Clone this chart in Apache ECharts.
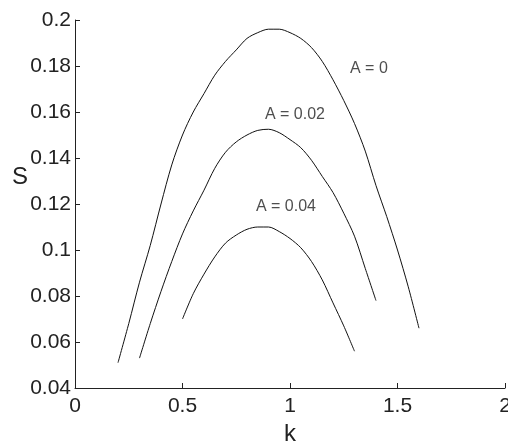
<!DOCTYPE html>
<html>
<head>
<meta charset="utf-8">
<script src="https://cdn.jsdelivr.net/npm/echarts@6/dist/echarts.min.js"></script>
<style>
html,body{margin:0;padding:0;background:#fff;}
#c{width:508px;height:441px;}
</style>
</head>
<body>
<div id="c"></div>
<script>
// A = 0
var k0 = [0.2,0.25,0.3,0.35,0.4,0.45,0.5,0.55,0.6,0.65,0.7,0.75,0.8,0.85,0.9,0.95,1.0,1.05,1.1,1.15,1.2,1.25,1.3,1.35,1.4,1.45,1.5,1.55,1.6];
var s0 = [0.051,0.068,0.086,0.102,0.120,0.137,0.150,0.160,0.168,0.176,0.182,0.187,0.192,0.1945,0.196,0.196,0.1945,0.192,0.188,0.182,0.174,0.165,0.155,0.143,0.128,0.1145,0.100,0.084,0.066];
// A = 0.02
var k1 = [0.3,0.35,0.4,0.45,0.5,0.55,0.6,0.65,0.7,0.75,0.8,0.85,0.9,0.95,1.0,1.05,1.1,1.15,1.2,1.25,1.3,1.35,1.4];
var s1 = [0.053,0.068,0.082,0.095,0.107,0.117,0.126,0.1355,0.1425,0.147,0.150,0.152,0.1525,0.151,0.148,0.1445,0.139,0.132,0.125,0.116,0.106,0.092,0.078];
// A = 0.04
var k2 = [0.5,0.55,0.6,0.65,0.7,0.75,0.8,0.85,0.9,0.95,1.0,1.05,1.1,1.15,1.2,1.25,1.3];
var s2 = [0.070,0.081,0.0895,0.097,0.103,0.1065,0.109,0.110,0.110,0.108,0.105,0.101,0.095,0.087,0.077,0.067,0.056];

var labelNames = ['A = 0','A = 0.02','A = 0.04'];
var labelK = [1.367,1.023,0.981];
var labelS = [0.179,0.1588,0.1188];

var xTicks = {min:0, max:2, interval:0.5};
var yTicks = {min:0.04, max:0.2, interval:0.02};

function pairs(xs, ys){ return xs.map(function(x,i){ return [x, ys[i]]; }); }

var FONT = 'Liberation Sans, Arial, sans-serif';
var TXT = '#222';

var lineStyle = {color:'#111', width:1};
function lineSeries(xs, ys){
  return {type:'line', data:pairs(xs,ys), showSymbol:false, smooth:0.3,
          lineStyle:lineStyle, silent:true, animation:false};
}

var chart = echarts.init(document.getElementById('c'), null, {renderer:'canvas'});
chart.setOption({
  backgroundColor:'#fff',
  animation:false,
  grid:{left:75, right:3, top:20, bottom:53, containLabel:false, outerBoundsMode:'none'},
  xAxis:{type:'value', min:xTicks.min, max:xTicks.max, interval:xTicks.interval,
    name:'k', nameLocation:'middle', nameGap:27,
    nameTextStyle:{fontFamily:FONT, fontSize:24, color:TXT},
    axisLine:{show:true, lineStyle:{color:'#222', width:1}},
    axisTick:{show:true, inside:true, length:5, lineStyle:{color:'#222'}},
    axisLabel:{fontFamily:FONT, fontSize:21, color:TXT, margin:8, hideOverlap:false},
    splitLine:{show:false}},
  yAxis:{type:'value', min:yTicks.min, max:yTicks.max, interval:yTicks.interval,
    axisLine:{show:true, lineStyle:{color:'#222', width:1}},
    axisTick:{show:true, inside:true, length:5, lineStyle:{color:'#222'}},
    axisLabel:{fontFamily:FONT, fontSize:21, color:TXT, margin:4},
    splitLine:{show:false}},
  graphic:[{type:'text', left:12, top:165,
    style:{text:'S', fontFamily:FONT, fontSize:24, fill:TXT}}],
  series:[
    lineSeries(k0,s0),
    lineSeries(k1,s1),
    lineSeries(k2,s2),
    {type:'scatter', symbolSize:0, silent:true,
     data:labelNames.map(function(n,i){ return {name:n, value:[labelK[i], labelS[i]]}; }),
     label:{show:true, position:'inside', formatter:'{b}', fontFamily:FONT, fontSize:16, color:TXT}}
  ]
});
</script>
</body>
</html>
